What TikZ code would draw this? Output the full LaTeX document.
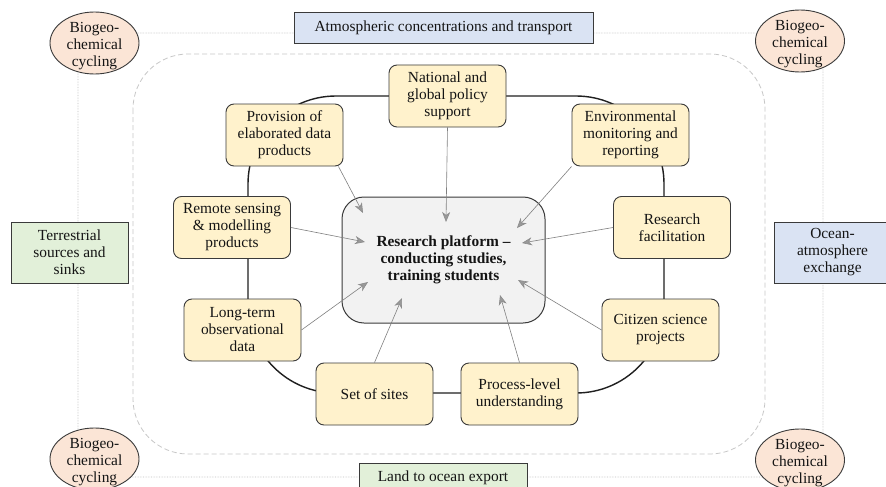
\documentclass[tikz,border=0pt]{standalone}
\usepackage{fontspec}
\setmainfont{Liberation Serif}
\usetikzlibrary{shapes.geometric,arrows.meta}

\definecolor{boxyellow}{HTML}{FFF2CC}
\definecolor{boxblue}{HTML}{DAE3F3}
\definecolor{boxgreen}{HTML}{E2F0D9}
\definecolor{boxsalmon}{HTML}{FBE5D6}
\definecolor{hubgray}{HTML}{F2F2F2}
\definecolor{edgedark}{HTML}{3A3A3A}

\begin{document}
\begin{tikzpicture}[x=1pt,y=-1pt,
  every node/.style={font=\fontsize{15.4}{17}\selectfont, text=black!92},
  topic/.style={draw=edgedark, line width=0.9pt, fill=boxyellow, rounded corners=8pt,
    minimum width=117pt, minimum height=62pt, inner sep=1pt, align=center},
  exchange/.style={draw=edgedark, line width=0.9pt, inner sep=1pt, align=center},
  cycle/.style={ellipse, draw=edgedark, line width=0.9pt, fill=boxsalmon,
    minimum width=89pt, minimum height=62pt, inner sep=0pt,
    label={[align=center, yshift=-3pt]center:Biogeo-\\chemical\\cycling}},
  hub/.style={draw=edgedark, line width=1pt, fill=hubgray, rounded corners=22pt,
    minimum width=203pt, minimum height=126pt, align=center,
    font=\fontsize{15.4}{17}\selectfont\bfseries},
  feed/.style={draw=black!50, line width=0.6pt,
    -{Stealth[length=10pt,width=8pt,inset=3pt,color=black!45,fill=black!40]}},
  loopline/.style={draw=black!88, line width=1.4pt, rounded corners=88pt},
  frame/.style={draw=black!22, line width=0.8pt, dash pattern=on 5pt off 3pt, rounded corners=55pt},
  outer/.style={draw=black!25, line width=0.6pt, densely dotted, rounded corners=35pt}
]
\useasboundingbox (0,0) rectangle (886,487);
\clip (0,0) rectangle (886,487);
\fill[white] (0,0) rectangle (886,487);

% background frames
\draw[outer] (78,33) rectangle (823,477);
\draw[frame] (133,54) rectangle (765,454);
\draw[loopline] (248,96) rectangle (664,393);

% exchange boxes around the frame
\node[exchange, fill=boxblue, minimum width=299pt, minimum height=31pt] (atm) at (443.5,27.5)
  {Atmospheric concentrations and transport};
\node[exchange, fill=boxgreen, minimum width=168pt, minimum height=31pt] (land) at (443,478.5) {};
\node (landtext) at (443,478) {Land to ocean export};
\node[exchange, fill=boxgreen, minimum width=117pt, minimum height=61pt] (terr) at (69.5,252.5)
  {Terrestrial\\sources and\\sinks};
\node[exchange, fill=boxblue, minimum width=117pt, minimum height=61pt] (ocean) at (832.5,252.5)
  {Ocean-\\atmosphere\\exchange};

% biogeochemical cycling corners
\node[cycle] (bgtl) at (94.5,43) {};
\node[cycle] (bgtr) at (800,41) {};
\node[cycle] (bgbl) at (94.5,459) {};
\node[cycle] (bgbr) at (800,460) {};

% topics on the loop
\node[topic] (nat)   at (447.5,96)  {National and\\global policy\\support};
\node[topic] (prov)  at (284.5,135) {Provision of\\elaborated data\\products};
\node[topic] (env)   at (630.5,135) {Environmental\\monitoring and\\reporting};
\node[topic] (rem)   at (232,227.5) {Remote sensing\\\& modelling\\products};
\node[topic] (fac)   at (672,227.5) {Research\\facilitation};
\node[topic] (lt)    at (242.5,330) {Long-term\\observational\\data};
\node[topic] (cit)   at (660.5,330) {Citizen science\\projects};
\node[topic] (sites) at (374.5,394) {Set of sites};
\node[topic] (proc)  at (519.5,394) {Process-level\\understanding};

% central platform
\node[hub] (hub) at (443.5,260) {Research platform –\\conducting studies,\\training students};

% arrow ends inside the platform
\coordinate (eprov)  at (363,213);
\coordinate (enat)   at (446,222);
\coordinate (eenv)   at (517,228);
\coordinate (erem)   at (365,242);
\coordinate (efac)   at (522,243);
\coordinate (elt)    at (368,282);
\coordinate (ecit)   at (518,280);
\coordinate (esites) at (402,298);
\coordinate (eproc)  at (500,295);

% feeds into the platform
\draw[feed] ([xshift=-5pt]prov.south east) -- (eprov);
\draw[feed] (nat.south) -- (enat);
\draw[feed] (env.south west) -- (eenv);
\draw[feed] (rem.east) -- (erem);
\draw[feed] (fac.west) -- (efac);
\draw[feed] (lt.east) -- (elt);
\draw[feed] (cit.west) -- (ecit);
\draw[feed] (sites.north) -- (esites);
\draw[feed] (proc.north) -- (eproc);
\end{tikzpicture}
\end{document}
